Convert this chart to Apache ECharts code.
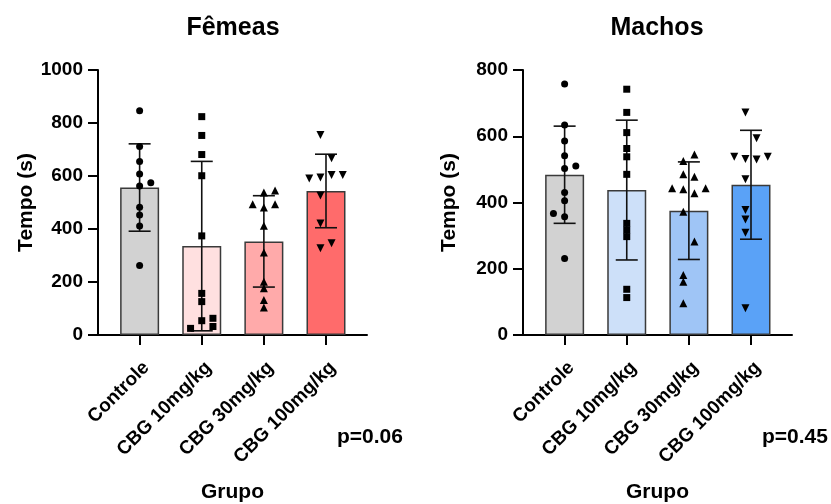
<!DOCTYPE html>
<html><head><meta charset="utf-8">
<script src="https://cdn.jsdelivr.net/npm/echarts@6/dist/echarts.min.js"></script>
<style>html,body{margin:0;padding:0;background:#fff}#c{width:831px;height:504px}</style>
</head><body><div id="c"></div>
<script>
// ---- data ----
const categories = ['Controle', 'CBG 10mg/kg', 'CBG 30mg/kg', 'CBG 100mg/kg'];
const femTitle = 'Fêmeas';
const macTitle = 'Machos';
const yName = 'Tempo (s)';
const xName = 'Grupo';
const femP = 'p=0.06';
const macP = 'p=0.45';
const femYTicks = [0, 200, 400, 600, 800, 1000];
const macYTicks = [0, 200, 400, 600, 800];

// Fêmeas: individual values and jitter column (half-steps)
const femControle = [846, 711, 655, 608, 575, 562, 482, 453, 411, 262];
const femControleCol = [0, 0, 0, 0, 2, 0, 0, 0, 0, 0];
const femCBG10 = [824, 753, 681, 601, 374, 157, 126, 54, 63, 32, 25];
const femCBG10Col = [0, 0, 0, 0, 0, 0, 0, 0, 2, 2, -2];
const femCBG30 = [538, 545, 493, 481, 493, 412, 311, 201, 176, 132, 104];
const femCBG30Col = [0, 2, -2, 0, 2, 0, 0, 0, 0, 0, 0];
const femCBG100 = [755, 667, 591, 594, 604, 604, 526, 421, 346, 327];
const femCBG100Col = [-1, 1, -3, -1, 1, 3, -1, -1, 1, -1];

// Machos
const macControle = [758, 634, 586, 541, 510, 503, 430, 405, 367, 357, 231];
const macControleCol = [0, 0, 0, 0, 2, 0, 0, 0, -2, 0, 0];
const macCBG10 = [742, 672, 611, 563, 538, 485, 337, 317, 297, 138, 113];
const macCBG10Col = [0, 0, 0, 0, 0, 0, 0, 0, 0, 0, 0];
const macCBG30 = [545, 525, 485, 478, 443, 440, 428, 443, 372, 282, 181, 161, 96];
const macCBG30Col = [1, -1, -1, 1, -3, -1, 1, 3, -1, 1, -1, -1, -1];
const macCBG100 = [672, 594, 538, 531, 530, 538, 470, 377, 349, 309, 81];
const macCBG100Col = [-1, 1, -3, -1, 1, 3, -1, -1, -1, -1, -1];

// ---- styles ----
const FONT = "'Liberation Sans', Arial, sans-serif";
const femColors = ['#d2d2d2', '#ffe0e0', '#ffaaaa', '#ff6b6b'];
const macColors = ['#d2d2d2', '#cde0f9', '#9fc5f6', '#5aa2f7'];
const symbols = ['circle', 'rect', 'triangle', 'triangle'];
const symbolRot = [0, 0, 0, 180];
const symbolSizes = [7, 7, 8, 8];
const STEP = 0.09;

function mean(a) { return a.reduce((s, v) => s + v, 0) / a.length; }
function sd(a) { const m = mean(a); return Math.sqrt(a.reduce((s, v) => s + (v - m) * (v - m), 0) / (a.length - 1)); }

function panelSeries(gi, groups, cols, colors) {
  const out = [];
  out.push({
    type: 'bar', xAxisIndex: gi, yAxisIndex: gi, barWidth: 39, z: 2,
    data: groups.map((g, i) => ({ value: [i, mean(g)], itemStyle: { color: colors[i] } })),
    itemStyle: { borderColor: '#3a3a3a', borderWidth: 1.5 },
    silent: true
  });
  out.push({
    type: 'custom', xAxisIndex: gi, yAxisIndex: gi, z: 3, silent: true,
    data: groups.map((g, i) => [i, mean(g) - sd(g), mean(g) + sd(g)]),
    renderItem: function (params, api) {
      const lo = api.coord([api.value(0), api.value(1)]);
      const hi = api.coord([api.value(0), api.value(2)]);
      const w = 11;
      const st = { stroke: '#111', lineWidth: 1.6 };
      return { type: 'group', children: [
        { type: 'line', shape: { x1: lo[0], y1: lo[1], x2: hi[0], y2: hi[1] }, style: st },
        { type: 'line', shape: { x1: hi[0] - w, y1: hi[1], x2: hi[0] + w, y2: hi[1] }, style: st },
        { type: 'line', shape: { x1: lo[0] - w, y1: lo[1], x2: lo[0] + w, y2: lo[1] }, style: st }
      ]};
    }
  });
  groups.forEach((g, i) => {
    out.push({
      type: 'scatter', xAxisIndex: gi, yAxisIndex: gi, z: 4, silent: true,
      symbol: symbols[i], symbolSize: symbolSizes[i], symbolRotate: symbolRot[i],
      itemStyle: { color: '#000', opacity: 1 },
      data: g.map((v, k) => [i + cols[i][k] * STEP, v])
    });
  });
  return out;
}

function xAx(gi) {
  return {
    type: 'value', gridIndex: gi, min: -0.67, max: 3.66,
    name: xName, nameLocation: 'middle', nameGap: 147,
    nameTextStyle: { fontFamily: FONT, fontWeight: 'bold', fontSize: 21, color: '#000' },
    axisLine: { show: true, onZero: false, lineStyle: { color: '#000', width: 2 } },
    axisTick: { show: true, customValues: [0, 1, 2, 3], length: 10, lineStyle: { color: '#000', width: 2 } },
    axisLabel: { customValues: [0, 1, 2, 3], rotate: 45, margin: 23, verticalAlign: 'top', color: '#000',
      fontFamily: FONT, fontWeight: 'bold', fontSize: 19,
      formatter: v => categories[Math.round(v)] },
    splitLine: { show: false }
  };
}
function yAx(gi, ticks, gap) {
  return {
    type: 'value', gridIndex: gi, min: ticks[0], max: ticks[ticks.length - 1], interval: ticks[1] - ticks[0],
    name: yName, nameLocation: 'middle', nameGap: gap,
    nameTextStyle: { fontFamily: FONT, fontWeight: 'bold', fontSize: 21, color: '#000' },
    axisLine: { show: true, onZero: false, lineStyle: { color: '#000', width: 2 } },
    axisTick: { show: true, length: 10, lineStyle: { color: '#000', width: 2 } },
    axisLabel: { margin: 15, color: '#000', fontFamily: FONT, fontWeight: 'bold', fontSize: 19,
      formatter: v => String(v) },
    splitLine: { show: false }
  };
}

const chart = echarts.init(document.getElementById('c'), null, { renderer: 'canvas' });
chart.setOption({
  animation: false,
  backgroundColor: '#fff',
  title: [
    { text: femTitle, left: 233, top: 16, padding: 0, textAlign: 'center', textStyle: { fontFamily: FONT, fontWeight: 'bold', fontSize: 25, color: '#000' } },
    { text: macTitle, left: 657, top: 16, padding: 0, textAlign: 'center', textStyle: { fontFamily: FONT, fontWeight: 'bold', fontSize: 25, color: '#000' } }
  ],
  grid: [
    { left: 98, top: 70, width: 269, height: 265, outerBoundsMode: 'none', containLabel: false },
    { left: 523, top: 70, width: 269, height: 265, outerBoundsMode: 'none', containLabel: false }
  ],
  xAxis: [xAx(0), xAx(1)],
  yAxis: [yAx(0, femYTicks, 61), yAx(1, macYTicks, 63)],
  graphic: [
    { type: 'text', left: 337, top: 427, style: { text: femP, fontFamily: FONT, fontWeight: 'bold', fontSize: 21, fill: '#000' } },
    { type: 'text', left: 762, top: 427, style: { text: macP, fontFamily: FONT, fontWeight: 'bold', fontSize: 21, fill: '#000' } }
  ],
  series: [].concat(
    panelSeries(0, [femControle, femCBG10, femCBG30, femCBG100], [femControleCol, femCBG10Col, femCBG30Col, femCBG100Col], femColors),
    panelSeries(1, [macControle, macCBG10, macCBG30, macCBG100], [macControleCol, macCBG10Col, macCBG30Col, macCBG100Col], macColors)
  )
});
</script></body></html>
